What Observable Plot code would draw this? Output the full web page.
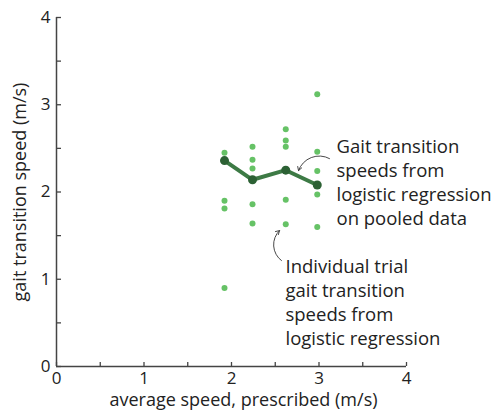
<!DOCTYPE html>
<html>
<head>
<meta charset="utf-8">
<script src="https://cdn.jsdelivr.net/npm/d3@7"></script>
<script src="https://cdn.jsdelivr.net/npm/@observablehq/plot@0.6"></script>
<style>
  html, body { margin: 0; padding: 0; background: #fff; }
  #chart svg { display: block; }
</style>
</head>
<body>
<div id="chart"></div>
<script>
// Prescribed average speed for each condition (m/s)
const speeds = [1.92, 2.24, 2.62, 2.98];
// Individual trial gait transition speeds (m/s), one list per condition
const trials = [
  [2.45, 1.90, 1.81, 0.90],
  [2.52, 2.37, 2.27, 1.86, 1.64],
  [2.72, 2.59, 2.52, 1.91, 1.63],
  [3.12, 2.46, 2.24, 1.97, 1.60]
];
// Pooled logistic regression transition speeds (m/s)
const pooled = [2.36, 2.14, 2.25, 2.08];

const xTicks = [0, 1, 2, 3, 4];
const yTicks = [0, 1, 2, 3, 4];
const minorTicks = [0, 0.5, 1, 1.5, 2, 2.5, 3, 3.5, 4];

const pooledText = ["Gait transition", "speeds from", "logistic regression", "on pooled data"];
const trialText = ["Individual trial", "gait transition", "speeds from", "logistic regression"];
// annotation anchors in data units
const pooledTextAt = {x: 3.2, y: 2.646};
const trialTextAt = {x: 2.617, y: 1.271};
const pooledArrow = [{x1: 3.12, y1: 2.383, x2: 2.766, y2: 2.245}];
const trialArrow = [{x1: 2.571, y1: 1.214, x2: 2.549, y2: 1.558}];

const trialRows = trials.flatMap((vals, i) => vals.map(v => ({x: speeds[i], y: v})));
const pooledRows = speeds.map((s, i) => ({x: s, y: pooled[i]}));

const font = "'Open Sans', 'Noto Sans', sans-serif";
const axisColor = "#444";
const arrowStyle = {x1: "x1", y1: "y1", x2: "x2", y2: "y2", stroke: "#333", strokeWidth: 0.9, headLength: 7};

const plot = Plot.plot({
  width: 492,
  height: 411,
  marginLeft: 56,
  marginRight: 86,
  marginTop: 17,
  marginBottom: 45,
  style: {fontFamily: font, fontSize: "17px", color: "#222", background: "#fff"},
  x: {domain: [0, 4]},
  y: {domain: [0, 4]},
  marks: [
    // inward minor ticks
    Plot.axisX(minorTicks, {tickSize: -4, text: null, stroke: axisColor, strokeWidth: 1.3, label: null}),
    Plot.axisY(minorTicks, {tickSize: -5, text: null, stroke: axisColor, strokeWidth: 1.3, label: null}),
    // labels
    Plot.axisX(xTicks, {tickSize: 0, tickPadding: 5, tickFormat: d => String(d), label: null, fontSize: 17, fill: "#222"}),
    Plot.axisY(yTicks, {tickSize: 0, tickPadding: 6, tickFormat: d => String(d), label: null, fontSize: 17, fill: "#222"}),
    Plot.ruleX([0], {stroke: axisColor, strokeWidth: 1.5}),
    Plot.ruleY([0], {stroke: axisColor, strokeWidth: 1.5}),
    // axis titles
    Plot.text(["average speed, prescribed (m/s)"], {frameAnchor: "bottom", textAnchor: "middle", lineAnchor: "middle", dx: 12, dy: 34, fontSize: 18, fill: "#222"}),
    Plot.text(["gait transition speed (m/s)"], {frameAnchor: "left", textAnchor: "middle", lineAnchor: "middle", dx: -36, dy: 0, rotate: -90, fontSize: 18, fill: "#222"}),
    // data
    Plot.dot(trialRows, {x: "x", y: "y", r: 3, fill: "#66c266", stroke: "none"}),
    Plot.line(pooledRows, {x: "x", y: "y", stroke: "#3d7a45", strokeWidth: 4}),
    Plot.dot(pooledRows, {x: "x", y: "y", r: 4.5, fill: "#2c6134", stroke: "none"}),
    // annotations
    Plot.text([pooledText.join("\n")], {x: pooledTextAt.x, y: pooledTextAt.y, textAnchor: "start", lineAnchor: "top", lineHeight: 1.3, fontSize: 18.5, fill: "#222"}),
    Plot.text([trialText.join("\n")], {x: trialTextAt.x, y: trialTextAt.y, textAnchor: "start", lineAnchor: "top", lineHeight: 1.3, fontSize: 18.5, fill: "#222"}),
    Plot.arrow(pooledArrow, {...arrowStyle, bend: -50}),
    Plot.arrow(trialArrow, {...arrowStyle, bend: 50})
  ]
});
document.getElementById("chart").append(plot);
</script>
</body>
</html>
